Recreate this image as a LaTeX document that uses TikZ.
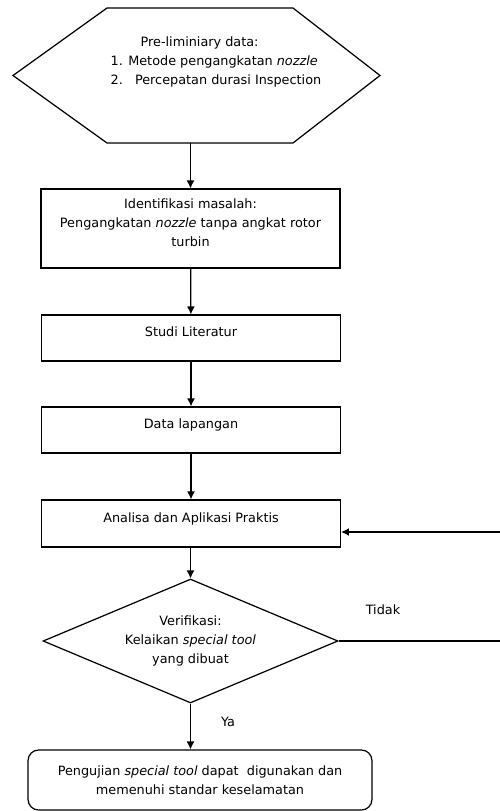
\documentclass[tikz,border=0pt]{standalone}
\usepackage{fontspec}
\setmainfont{DejaVu Sans}
\usetikzlibrary{shapes.geometric,arrows.meta}
\tikzset{
  box/.style={draw,rectangle,minimum width=5.98cm,align=center,inner sep=0pt,text depth=0.24cm},
  decide/.style={draw,diamond,aspect=2.4,minimum width=5.9cm,minimum height=2.48cm,inner sep=0pt,align=center},
  finish/.style={draw,rectangle,rounded corners=6pt,minimum width=6.88cm,minimum height=1.2cm,align=center}
}
\begin{document}
\begin{tikzpicture}[>={Latex[length=4.5pt,width=4.5pt]},x=0.02cm,y=-0.02cm,line width=0.7pt,font=\fontsize{7.3}{10.8}\selectfont]
\useasboundingbox (0,0) rectangle (500,811);
% data awal
\draw (107,8)--(293,8)--(380,75.5)--(293,143)--(107,143)--(13,75.5)--cycle;
\node[anchor=west,align=left,inner sep=0pt] (pre) at (110,62) {\hspace*{0.6cm}Pre-liminiary data:\\1. Metode pengangkatan \textit{nozzle}\\2.\ \ \ Percepatan durasi Inspection};
\coordinate (prebot) at (190.5,143);

\node[box,minimum height=1.58cm] (idn) at (190.5,228.5) {Identifikasi masalah:\\Pengangkatan \textit{nozzle} tanpa angkat rotor\\turbin};
\node[box,minimum height=0.92cm] (lit) at (191,338) {Studi Literatur};
\node[box,minimum height=0.92cm] (lap) at (191,430) {Data lapangan};
\node[box,minimum height=0.94cm] (ana) at (191,523.5) {Analisa dan Aplikasi Praktis};

\node[decide] (ver) at (190.5,641) {Verifikasi:\\Kelaikan \textit{special tool}\\yang dibuat};
\node[finish] (fin) at (200,780) {Pengujian \textit{special tool} dapat\ \ digunakan dan\\memenuhi standar keselamatan};

\draw[->] (prebot) -- (idn.north);
\draw[->] (idn) -- (lit);
\draw[->] (lit) -- (lap);
\draw[->] (lap) -- (ana);
\draw[->] (ana.south -| ver.north) -- (ver.north);
\draw[->] (ver.south) -- (ver.south |- fin.north);

% kembali ke analisa
\coordinate (loopa) at (506,641);
\coordinate (loopb) at (506,532);
\draw[->] (ver.east) -- (loopa) -- (loopb) -- (ana.east |- loopb);

\node (tdk) at (383,610) {Tidak};
\node (ya) at (228,722) {Ya};
\end{tikzpicture}
\end{document}
